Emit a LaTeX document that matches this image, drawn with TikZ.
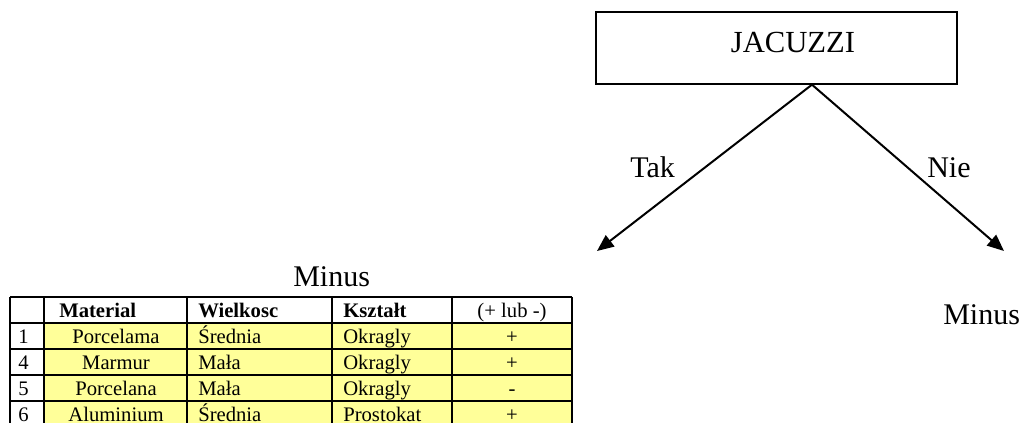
\documentclass[tikz,border=0pt]{standalone}
\usepackage{fontspec}
\setmainfont{Liberation Serif}
\usetikzlibrary{arrows.meta}
\definecolor{tabyellow}{RGB}{255,255,153}

\begin{document}
\begin{tikzpicture}[x=0.75pt, y=-0.75pt,
	box/.style = {draw, line width=1pt, minimum width=270.75pt, minimum height=54pt, inner sep=0pt},
	big/.style = {font=\fontsize{22.5}{26}\selectfont, inner sep=0pt, anchor=base west},
	cell/.style = {font=\fontsize{15.5}{18}\selectfont, inner sep=0pt, anchor=base west},
	ccell/.style = {cell, anchor=base},
	head/.style = {cell, font=\fontsize{15.5}{18}\selectfont\bfseries},
	branch/.style = {line width=1.5pt, -{Triangle[length=12.5pt, width=10.5pt]}},
	rule/.style = {line width=1.5pt}]

	\useasboundingbox (0,0) rectangle (1028,423);

	\node[box] (root) at (776.5,48) {};
	\node[big, anchor=base, font=\fontsize{23}{26}\selectfont] (rootname) at (793,53) {JACUZZI};

	\coordinate (split) at ([xshift=26.6pt]root.south);
	\coordinate (yes) at (597,251);
	\coordinate (no) at (1004,251);
	\draw[branch] (split) to (yes);
	\draw[branch] (split) to (no);

	\node[big] (tak) at (630,178) {Tak};
	\node[big] (nie) at (927,178) {Nie};
	\node[big] (minusno) at (943,325) {Minus};
	\node[big] (minusyes) at (293,287) {Minus};

	% tabela
	\fill[tabyellow] (44,323) rectangle (572,427);
	\draw[rule] (10,297) -- (572,297);
	\draw[rule] (10,323) -- (572,323);
	\draw[rule] (10,349) -- (572,349);
	\draw[rule] (10,375) -- (572,375);
	\draw[rule] (10,401) -- (572,401);
	\draw[rule] (10,427) -- (572,427);
	\draw[rule] (10,297) -- (10,427);
	\draw[rule] (44,297) -- (44,427);
	\draw[rule] (187,297) -- (187,427);
	\draw[rule] (332,297) -- (332,427);
	\draw[rule] (452,297) -- (452,427);
	\draw[rule] (572,297) -- (572,427);

	\node[head] (h1) at (59,317.5) {Material};
	\node[head] (h2) at (198,317.5) {Wielkosc};
	\node[head] (h3) at (343,317.5) {Kształt};
	\node[ccell] (h4) at (512,317.5) {(+ lub -)};

	\node[cell] (n1) at (18,343.5) {1};
	\node[ccell] (m1) at (116,343.5) {Porcelama};
	\node[cell] (w1) at (198,343.5) {Średnia};
	\node[cell] (k1) at (343,343.5) {Okragly};
	\node[ccell] (s1) at (512,343.5) {+};

	\node[cell] (n2) at (18,369.5) {4};
	\node[ccell] (m2) at (116,369.5) {Marmur};
	\node[cell] (w2) at (198,369.5) {Mała};
	\node[cell] (k2) at (343,369.5) {Okragly};
	\node[ccell] (s2) at (512,369.5) {+};

	\node[cell] (n3) at (18,395.5) {5};
	\node[ccell] (m3) at (116,395.5) {Porcelana};
	\node[cell] (w3) at (198,395.5) {Mała};
	\node[cell] (k3) at (343,395.5) {Okragly};
	\node[ccell] (s3) at (512,395.5) {-};

	\node[cell] (n4) at (18,421.5) {6};
	\node[ccell] (m4) at (116,421.5) {Aluminium};
	\node[cell] (w4) at (198,421.5) {Średnia};
	\node[cell] (k4) at (343,421.5) {Prostokat};
	\node[ccell] (s4) at (512,421.5) {+};

\end{tikzpicture}
\end{document}
